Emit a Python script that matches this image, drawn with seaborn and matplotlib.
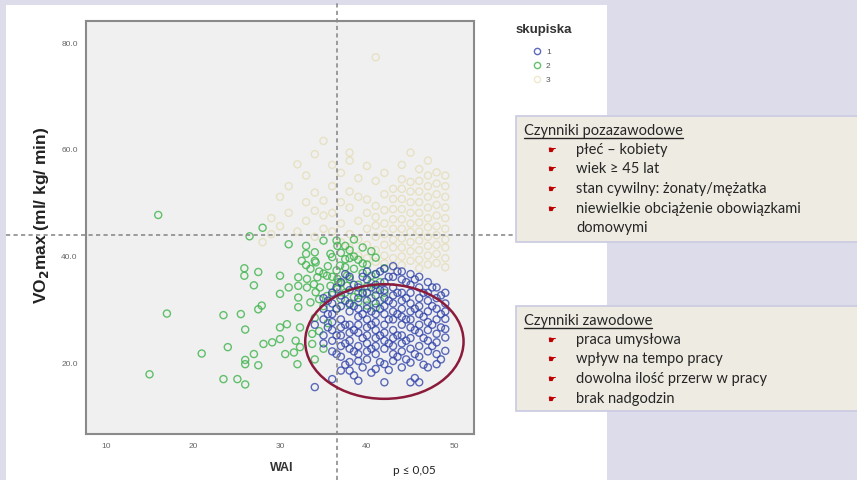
import matplotlib
matplotlib.use("Agg")
import matplotlib.pyplot as plt
from matplotlib.patches import Ellipse, Rectangle
from matplotlib.lines import Line2D
import seaborn as sns
import pandas as pd

W, H = 857, 481

# skupisko 1 (blue): WAI column -> VO2max values
blue_cols = [
    (34, [15.3, 27.0]),
    (35, [32.0, 30.0, 28.0, 25.0, 23.5]),
    (35.5, [31.5, 29.0, 26.5]),
    (36, [33.0, 31.0, 29.0, 27.5, 26.0, 24.0, 22.0, 16.8]),
    (36.5, [34.0, 30.0, 25.0, 21.5]),
    (37, [35.0, 32.5, 30.5, 28.0, 26.5, 25.0, 23.0, 21.0, 18.4]),
    (37.5, [36.5, 31.5, 27.0, 23.5, 19.5]),
    (38, [36.0, 33.5, 31.0, 29.5, 27.0, 25.5, 24.0, 22.5, 20.0, 18.4]),
    (38.5, [34.5, 30.5, 26.0, 22.0, 17.5]),
    (39, [34.0, 32.0, 30.0, 28.5, 27.0, 25.5, 23.0, 21.5, 20.2, 16.5]),
    (39.5, [36.0, 33.0, 29.0, 24.5, 19.0]),
    (40, [37.0, 35.5, 33.0, 31.5, 30.0, 28.0, 26.5, 25.0, 23.5, 22.0, 20.5]),
    (40.5, [34.0, 29.5, 27.0, 22.5, 18.0]),
    (41, [36.5, 34.5, 32.5, 31.0, 29.0, 27.5, 26.0, 24.5, 23.0, 21.5, 18.7]),
    (41.5, [37.0, 33.5, 30.0, 25.0, 20.0]),
    (42, [37.5, 35.0, 33.5, 32.0, 30.5, 29.0, 27.0, 25.5, 24.0, 22.5, 19.6, 16.2]),
    (42.5, [36.0, 31.5, 28.0, 23.5, 18.5]),
    (43, [38.0, 36.0, 34.0, 32.5, 31.0, 29.5, 28.0, 26.0, 24.5, 23.0, 21.5, 20.2]),
    (43.5, [37.0, 33.0, 29.0, 25.0, 21.0]),
    (44, [37.0, 35.5, 33.0, 31.5, 30.0, 28.5, 27.0, 25.0, 23.5, 22.0, 19.0]),
    (44.5, [35.0, 32.0, 28.0, 24.0, 20.5]),
    (45, [36.5, 34.5, 33.0, 31.0, 29.5, 28.0, 26.5, 24.5, 22.5, 19.9, 16.2]),
    (45.5, [35.5, 30.0, 26.0, 21.5, 17.0]),
    (46, [36.0, 34.0, 32.0, 30.5, 29.0, 27.0, 25.5, 23.0, 21.0, 16.2]),
    (46.5, [33.0, 28.5, 24.5, 19.5]),
    (47, [35.0, 33.0, 31.5, 29.5, 27.5, 26.0, 24.0, 22.0, 19.0]),
    (47.5, [34.0, 30.5, 27.0, 23.0]),
    (48, [34.0, 32.0, 30.0, 28.0, 25.3, 23.7, 21.5, 19.6]),
    (48.5, [32.5, 29.0, 26.5, 20.5]),
    (49, [33.0, 31.0, 29.5, 28.1, 26.2, 24.6, 22.1]),
]

# skupisko 2 (green): (WAI, VO2max)
green_pts = [
    (16.0, 47.6), (15.0, 17.7), (17.0, 29.1),
    (28.0, 45.2), (26.5, 43.6),
    (31.0, 42.1), (33.0, 41.8), (35.0, 42.8), (36.6, 41.8),
    (32.5, 39.0), (34.1, 38.7), (35.8, 40.3), (36.9, 38.1), (37.5, 39.3),
    (25.9, 37.6), (25.9, 36.2), (27.5, 36.9), (30.0, 36.2), (32.1, 35.9),
    (33.1, 35.6), (34.3, 35.9), (35.4, 36.2), (36.6, 35.6), (37.7, 36.2),
    (27.0, 34.4), (31.0, 34.0), (32.1, 34.3), (33.1, 34.0), (33.9, 34.6),
    (34.6, 34.0), (35.8, 34.3), (36.7, 35.0), (37.7, 34.3),
    (30.0, 32.8), (32.1, 32.1), (32.1, 30.3), (34.1, 33.1), (35.4, 32.4), (36.6, 33.7),
    (27.9, 30.6), (27.5, 29.9), (23.5, 28.8), (25.5, 29.0), (26.0, 26.1),
    (30.0, 26.5), (30.8, 27.1), (31.8, 24.0), (30.0, 24.3), (29.1, 23.7), (28.1, 23.4),
    (32.3, 26.5), (33.7, 25.3), (33.7, 23.4), (32.3, 22.8), (30.6, 21.5), (31.6, 21.8),
    (24.0, 22.8), (21.0, 21.6), (26.0, 20.4), (26.0, 19.6), (27.5, 19.4),
    (27.0, 21.5), (32.0, 19.6), (23.5, 16.8), (25.1, 16.8), (26.0, 15.8),
    (33.0, 40.3), (34.0, 40.6), (36.0, 39.7), (37.0, 40.5), (38.0, 41.0), (39.0, 39.2),
    (33.5, 37.5), (34.5, 37.0), (35.5, 38.0), (36.5, 37.2), (38.5, 37.5),
    (39.5, 36.7), (40.5, 36.2), (35.0, 36.6), (37.0, 34.8), (38.0, 35.6),
    (39.0, 34.5), (40.0, 34.2), (41.0, 33.6), (34.5, 31.8), (36.0, 32.6),
    (37.5, 33.0), (38.5, 32.2), (39.5, 32.8), (40.5, 32.0), (41.5, 31.5),
    (39.0, 31.3), (40.0, 30.6), (41.0, 30.2), (35.0, 30.5), (36.5, 30.0),
    (33.5, 31.2), (34.0, 28.3), (35.5, 27.3), (34.5, 25.8), (35.0, 22.5), (34.0, 20.5),
    (38.0, 39.5), (40.0, 38.3), (41.0, 39.6), (42.0, 37.6), (36.5, 42.8),
    (37.5, 41.8), (40.5, 40.8), (39.5, 41.5), (38.5, 43.0),
    (37.5, 37.8), (38.5, 39.8), (39.5, 38.5), (41.5, 35.0), (40.5, 34.8),
    (39.0, 33.0), (38.0, 30.8), (37.0, 31.8), (36.0, 36.0), (34.0, 39.0),
    (33.0, 38.2), (42.0, 33.0), (41.0, 36.5),
]

# skupisko 3 (beige): WAI column -> VO2max values
beige_cols = [
    (28, [42.5]),
    (29, [44.0, 47.0]),
    (30, [45.5, 51.0]),
    (31, [48.0, 53.0]),
    (32, [57.1, 44.5]),
    (33, [46.5, 50.0, 55.0]),
    (34, [48.4, 51.8, 43.5, 59.0]),
    (35, [61.5, 50.3, 45.0, 47.5]),
    (36, [53.0, 48.0, 44.5, 57.0]),
    (37, [46.0, 50.0, 42.5, 55.5]),
    (38, [59.3, 57.8, 49.0, 44.0, 41.5, 52.0]),
    (39, [46.5, 43.0, 40.0, 51.0, 54.5]),
    (40, [56.8, 48.0, 45.0, 42.0, 39.5, 50.5]),
    (41, [77.2, 54.0, 49.3, 47.2, 45.6, 43.5, 41.0, 38.8]),
    (42, [55.5, 51.5, 48.5, 46.0, 44.0, 42.0, 40.0, 38.5]),
    (43, [52.5, 50.6, 48.7, 46.8, 45.0, 43.0, 41.5, 39.5, 37.8]),
    (44, [57.0, 54.3, 52.5, 50.6, 48.7, 46.8, 45.0, 43.2, 41.5, 39.8, 38.2]),
    (45, [59.3, 53.8, 52.0, 50.0, 48.0, 46.0, 44.4, 42.5, 40.8, 39.0]),
    (46, [56.2, 54.0, 52.0, 50.0, 48.0, 46.2, 44.5, 42.8, 41.0, 39.2, 37.6]),
    (47, [57.8, 55.0, 53.0, 51.0, 49.0, 47.0, 45.3, 43.5, 41.8, 40.0, 38.3]),
    (48, [55.6, 53.5, 51.5, 49.5, 47.5, 45.5, 43.8, 42.0, 40.3, 38.6]),
    (49, [55.0, 53.0, 51.0, 49.0, 47.0, 45.0, 43.0, 41.5, 39.5, 37.8]),
]

rows = []
for wai, vals in blue_cols:
    rows += [(wai, v, "1") for v in vals]
rows += [(w, v, "2") for w, v in green_pts]
for wai, vals in beige_cols:
    rows += [(wai, v, "3") for v in vals]
df = pd.DataFrame(rows, columns=["WAI", "VO2max", "skupiska"])

colors = {"1": "#3446ab", "2": "#3db34a", "3": "#dccf8e"}
alphas = {"1": 0.8, "2": 0.8, "3": 0.45}

sns.set_theme(style="white")
plt.rcParams["font.family"] = ["Liberation Sans", "DejaVu Sans"]

fig = plt.figure(figsize=(W / 100, H / 100), dpi=100, facecolor="#dcdcea")
fig.add_artist(Rectangle((6 / W, 0), (607 - 6) / W, 1 - 6 / H, transform=fig.transFigure,
                         facecolor="white", edgecolor="none", zorder=-1))

ax = fig.add_axes([86 / W, 1 - 435 / H, 388 / W, 413 / H])
ax.set_facecolor("#f0f0f0")

for k in ["3", "2", "1"]:
    sns.scatterplot(data=df[df["skupiska"] == k], x="WAI", y="VO2max", ax=ax,
                    marker="o", s=26, facecolors="none", edgecolor=colors[k],
                    linewidth=1.0, alpha=alphas[k], legend=False)

ax.set_xlim(7.7, 52.3)
ax.set_ylim(6.5, 84)
ax.set_xticks([10, 20, 30, 40, 50])
ax.set_yticks([20, 40, 60, 80])
ax.set_yticklabels(["20.0", "40.0", "60.0", "80.0"])
ax.tick_params(direction="out", length=4, width=1, color="#888888",
               labelsize=6, labelcolor="#666666", pad=2)
for sp in ax.spines.values():
    sp.set_color("#8a8a8a")
    sp.set_linewidth(1.5)

ax.set_xlabel("WAI", fontweight="bold", fontsize=9, color="#333333")
ax.xaxis.set_label_coords((282 - 86) / 388, -(468 - 435) / 413)
ax.xaxis.label.set_va("center")
ax.set_ylabel("VO$_\\mathbf{2}$max (ml/ kg/ min)", fontweight="bold", fontsize=12.5, color="#222222")
ax.yaxis.set_label_coords((42 - 86) / 388, (435 - 215) / 413)
ax.yaxis.label.set_va("center")

# dashed reference lines reaching over the slide
ax.axhline(43.75, xmin=(6 - 86) / 388, xmax=(607 - 86) / 388, clip_on=False,
           color="#8c8c8c", ls=(0, (2.5, 2)), lw=1.2, zorder=1)
ax.axvline(36.5, ymin=-(481 - 435) / 413, ymax=435 / 413, clip_on=False,
           color="#8c8c8c", ls=(0, (2.5, 2)), lw=1.2, zorder=1)

ax.add_patch(Ellipse((42.0, 23.85), 18.2, 21.5, fill=False, edgecolor="#8b1a3b",
                     lw=1.8, zorder=5, clip_on=False))


def px(x, y):
    return x / W, 1 - y / H


# legend (skupiska) placed like the SPSS output
fig.text(*px(544, 30), "skupiska", ha="center", va="center", fontsize=9.5,
         fontweight="bold", color="#333333")
for k, ly in zip(["1", "2", "3"], [52, 66, 80]):
    fig.add_artist(Line2D([537 / W], [1 - ly / H], transform=fig.transFigure, marker="o",
                          ls="none", markersize=4.5, markerfacecolor="none",
                          markeredgecolor=colors[k], alpha=alphas[k]))
    fig.text(*px(546, ly), k, va="center", fontsize=6, color="#555555")

# text boxes
box_font = ["Lato", "DejaVu Sans"]
boxes = [
    (117, 243, "Czynniki pozazawodowe", 131,
     ["płeć – kobiety", "wiek ≥ 45 lat", "stan cywilny: żonaty/mężatka",
      "niewielkie obciążenie obowiązkami"], [150, 169, 189, 209], ("domowymi", 228)),
    (307, 412, "Czynniki zawodowe", 321,
     ["praca umysłowa", "wpływ na tempo pracy", "dowolna ilość przerw w pracy",
      "brak nadgodzin"], [340, 359, 379, 399], None),
]
titles = []
for top, bottom, title, ty, items, iys, extra in boxes:
    fig.add_artist(Rectangle(px(516, bottom), (W - 516 + 5) / W, (bottom - top) / H,
                             transform=fig.transFigure, facecolor="#eeebe2",
                             edgecolor="#cacae2", lw=1.2, zorder=2))
    t = fig.text(*px(524, ty), title, va="center", fontsize=10.5, family=box_font,
                 color="#262626", zorder=3)
    titles.append(t)
    for it, iy in zip(items, iys):
        fig.text(*px(547, iy), "☛", va="center", fontsize=7, family="DejaVu Sans",
                 color="#c00000", zorder=3)
        fig.text(*px(576, iy), it, va="center", fontsize=10.5, family=box_font,
                 color="#262626", zorder=3)
    if extra:
        fig.text(*px(576, extra[1]), extra[0], va="center", fontsize=10.5, family=box_font,
                 color="#262626", zorder=3)

fig.text(*px(393, 471), "p ≤ 0,05", va="center", fontsize=8.5, family=box_font,
         color="#222222")

# underline titles
fig.canvas.draw()
r = fig.canvas.get_renderer()
for t in titles:
    bb = t.get_window_extent(r)
    y = bb.y0 - 1
    fig.add_artist(Line2D([bb.x0 / W, bb.x1 / W], [y / H, y / H], transform=fig.transFigure,
                          color="#262626", lw=1.0, zorder=3))

fig.savefig("out.png", dpi=100, facecolor=fig.get_facecolor())
